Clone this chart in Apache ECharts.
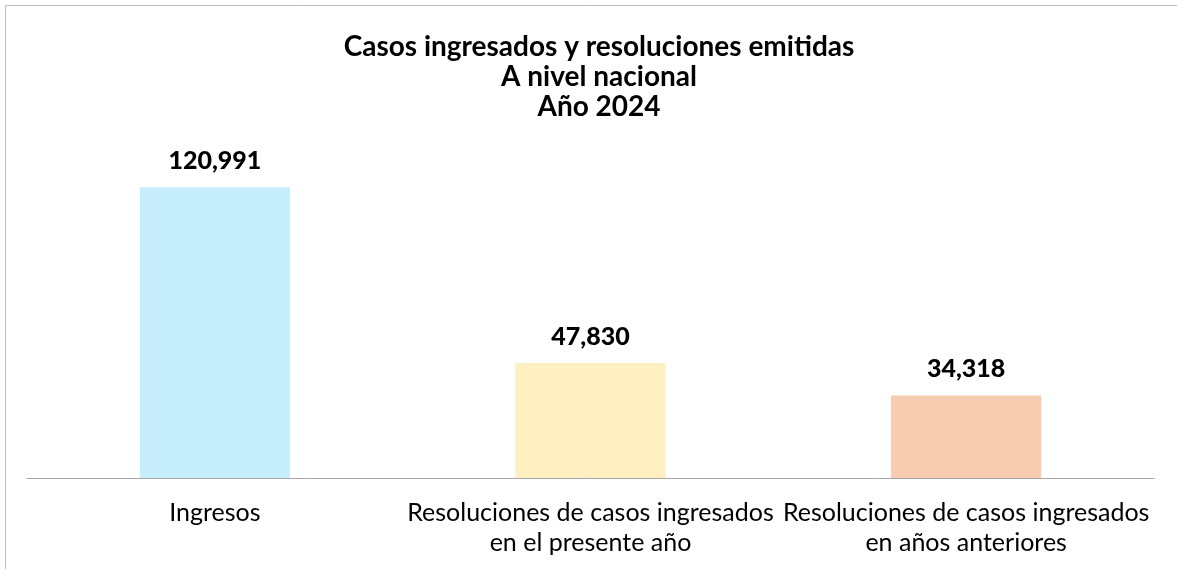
<!DOCTYPE html>
<html>
<head>
<meta charset="utf-8">
<script src="https://cdn.jsdelivr.net/npm/echarts@6/dist/echarts.min.js"></script>
<style>
  html, body { margin: 0; padding: 0; background: #fff; }
  #chart { width: 1177px; height: 569px; }
</style>
</head>
<body>
<div id="chart"></div>
<script>
// datos
var categorias = ['Ingresos', 'Resoluciones de casos ingresados\nen el presente año', 'Resoluciones de casos ingresados\nen años anteriores'];
var valores = [120991, 47830, 34318];
var colores = ['#c6eefc', '#fef0c3', '#f6cdb1'];

var dom = document.getElementById('chart');
var myChart = echarts.init(dom);

var option = {
    animation: false,
    title: {
        text: 'Casos ingresados y resoluciones emitidas\nA nivel nacional\nAño 2024',
        left: 594,
        top: 27,
        textAlign: 'center',
        textStyle: {
            fontFamily: 'Lato',
            fontWeight: 'bold',
            fontSize: 28,
            lineHeight: 30,
            color: '#000'
        }
    },
    graphic: [{
        type: 'rect',
        shape: { x: 5.5, y: 5.5, width: 1300, height: 700 },
        style: { fill: 'none', stroke: '#bfbfbf', lineWidth: 1 },
        silent: true
    }],
    grid: {
        left: 27,
        right: 23,
        top: 60,
        bottom: 91
    },
    xAxis: {
        type: 'category',
        data: categorias,
        axisTick: { show: false },
        axisLine: { lineStyle: { color: '#a6a6a6', width: 1 } },
        axisLabel: {
            interval: 0,
            margin: 20,
            fontFamily: 'Lato',
            fontSize: 25,
            lineHeight: 30,
            color: '#000'
        }
    },
    yAxis: {
        type: 'value',
        min: 0,
        max: 174000,
        show: false,
        splitLine: { show: false }
    },
    series: [{
        type: 'bar',
        barWidth: '40%',
        data: valores.map(function (v, i) {
            return { value: v, itemStyle: { color: colores[i] } };
        }),
        label: {
            show: true,
            position: 'top',
            distance: 14,
            fontFamily: 'Lato',
            fontWeight: 900,
            fontSize: 25,
            color: '#000',
            formatter: function (p) {
                return p.value.toLocaleString('en-US');
            }
        }
    }]
};

myChart.setOption(option);
</script>
</body>
</html>
